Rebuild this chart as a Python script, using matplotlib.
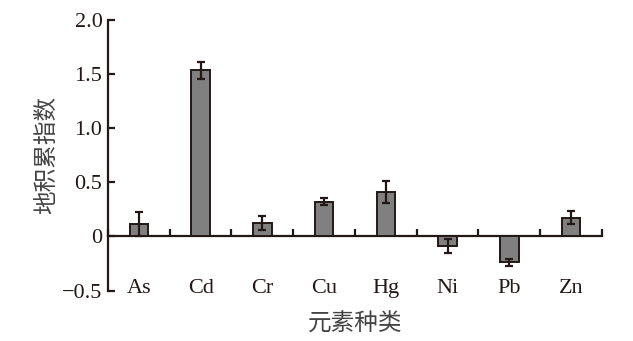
import matplotlib
matplotlib.use("Agg")
import matplotlib.pyplot as plt
import numpy as np

elements = ["As", "Cd", "Cr", "Cu", "Hg", "Ni", "Pb", "Zn"]
igeo = [0.11, 1.53, 0.12, 0.32, 0.41, -0.09, -0.24, 0.17]
igeo_err = [0.11, 0.08, 0.065, 0.035, 0.10, 0.065, 0.03, 0.06]
yticks = [-0.5, 0, 0.5, 1.0, 1.5, 2.0]
ytick_labels = ["\u22120.5", "0", "0.5", "1.0", "1.5", "2.0"]

ink = "#231815"
serif = ["Liberation Serif", "DejaVu Serif"]
cjk = ["Noto Sans CJK SC", "DejaVu Sans"]

fig = plt.figure(figsize=(6.33, 3.41), dpi=100)
ax = fig.add_axes([0.1706, 0.148, 0.951 - 0.1706, 0.9428 - 0.148])

x = np.arange(len(elements))
ax.bar(x, igeo, width=0.3, color="#808080", edgecolor=ink, linewidth=1.4, zorder=2)
ax.errorbar(x, igeo, yerr=igeo_err, fmt="none", ecolor=ink, elinewidth=1.6,
            capsize=3, capthick=1.6, zorder=3)

ymin, ymax = -0.5, 2.0
ax.set_xlim(-0.5, len(elements) - 0.5)
ax.set_ylim(ymin, ymax)

for side in ("top", "right", "bottom"):
    ax.spines[side].set_visible(False)
ax.spines["left"].set_linewidth(1.6)
ax.spines["left"].set_color(ink)

ax.set_yticks(yticks)
ax.set_yticklabels(ytick_labels, family=serif, fontsize=16, color=ink)
ax.tick_params(axis="y", direction="in", length=5, width=1.6, color=ink, pad=4)

ax.set_xticks(x)
ax.set_xticklabels(elements, family=serif, fontsize=16, color=ink)
ax.tick_params(axis="x", length=0, pad=-8)

# zero line with boundary ticks
zero = ax.secondary_xaxis((0 - ymin) / (ymax - ymin))
zero.spines["bottom"].set_linewidth(1.6)
zero.spines["bottom"].set_color(ink)
zero.set_xticks(np.arange(len(elements) + 1) - 0.5)
zero.set_xticklabels([])
zero.tick_params(axis="x", direction="in", length=5, width=1.6, color=ink)

ax.set_ylabel("地积累指数", family=cjk, fontsize=17, color="#444444", labelpad=3)
ax.set_xlabel("元素种类", family=cjk, fontsize=17, color="#444444", labelpad=10)

fig.savefig("out.png", dpi=100)
